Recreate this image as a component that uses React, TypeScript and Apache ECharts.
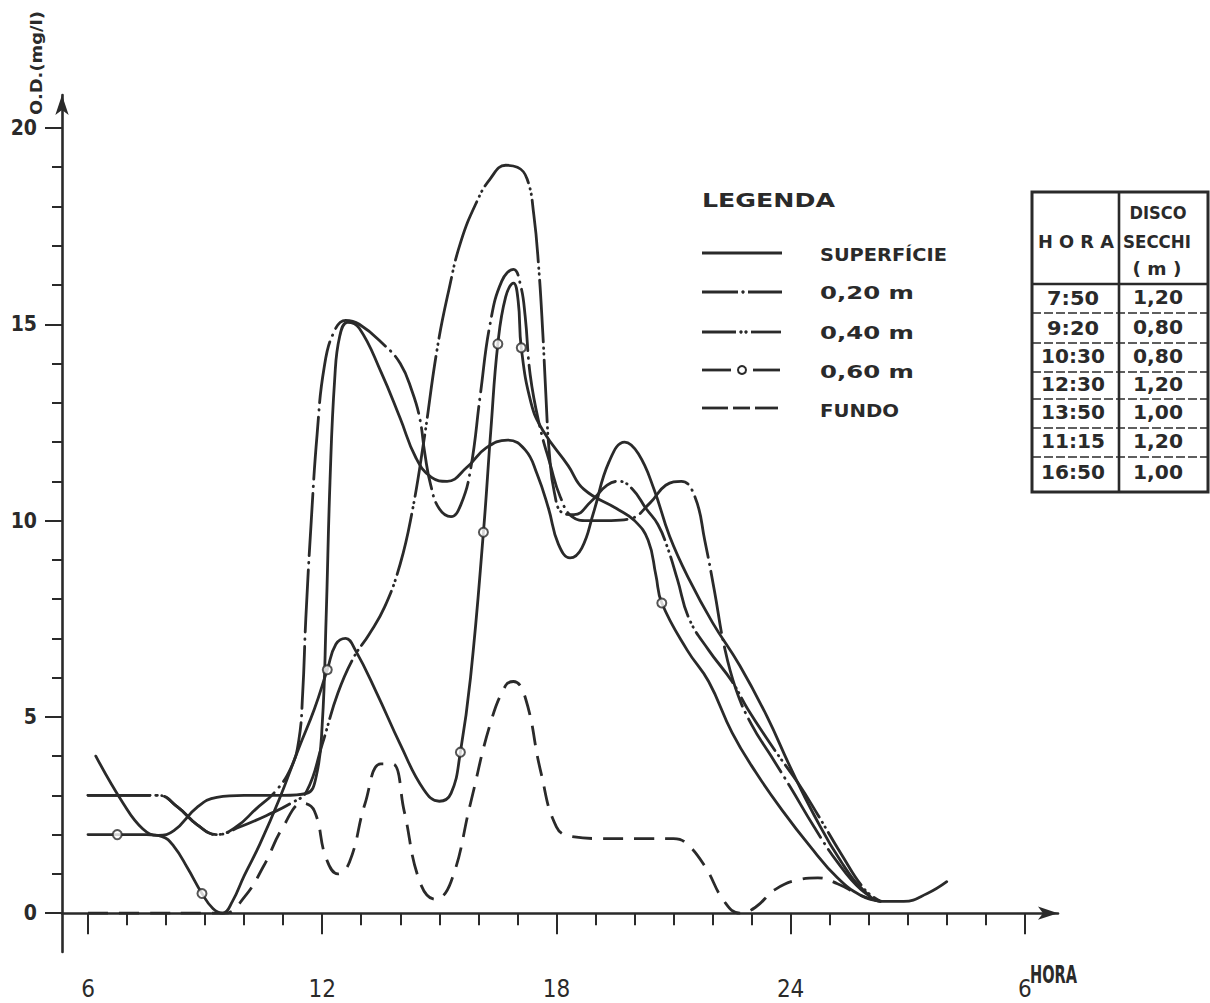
import React, { useEffect, useRef } from "react";
import * as echarts from "echarts";

// ---------- data ----------
const hourTicks = [6, 7, 8, 9, 10, 11, 12, 13, 14, 15, 16, 17, 18, 19, 20, 21, 22, 23, 24, 25, 26, 27, 28, 29, 30];
const hourLabels = [6, 12, 18, 24, 30];
const valueTicks = [0, 1, 2, 3, 4, 5, 6, 7, 8, 9, 10, 11, 12, 13, 14, 15, 16, 17, 18, 19, 20];
const valueLabels = [0, 5, 10, 15, 20];

const superficie: [number, number][] = [
  [6.2, 4.0], [6.9, 2.8], [7.4, 2.15], [7.8, 1.98], [8.2, 2.1], [8.8, 2.7],
  [9.3, 2.95], [10.0, 3.0], [11.0, 3.0], [11.6, 3.05], [11.85, 3.5], [12.0, 4.8],
  [12.1, 7.5], [12.2, 11.0], [12.32, 13.6], [12.45, 14.7], [12.65, 15.05], [12.95, 14.9],
  [13.5, 13.8], [14.0, 12.6], [14.4, 11.6], [14.8, 11.1], [15.2, 11.0], [15.7, 11.35],
  [16.2, 11.85], [16.75, 12.05], [17.2, 11.8], [17.5, 11.2], [17.8, 10.3], [18.05, 9.4],
  [18.35, 9.05], [18.65, 9.3], [18.95, 10.2], [19.35, 11.5], [19.75, 12.0], [20.1, 11.7],
  [20.5, 10.8], [20.9, 9.6], [21.4, 8.5], [22.0, 7.4], [22.7, 6.3], [23.4, 5.0], [24.0, 3.7],
  [24.6, 2.5], [25.3, 1.3], [25.9, 0.55], [26.35, 0.3], [26.9, 0.3], [27.5, 0.5], [28.0, 0.8]
];

const m020: [number, number][] = [
  [6.0, 3.0], [7.0, 3.0], [7.8, 3.0], [8.3, 2.7], [8.8, 2.25], [9.3, 2.0], [9.8, 2.2],
  [10.3, 2.65], [10.8, 3.1], [11.2, 3.7], [11.4, 4.4], [11.5, 5.6], [11.58, 7.5], [11.72, 10.0],
  [11.87, 12.2], [12.05, 13.9], [12.3, 14.8], [12.6, 15.1], [12.95, 15.0], [13.56, 14.5],
  [14.0, 14.0], [14.3, 13.3], [14.5, 12.6], [14.63, 11.7], [14.78, 10.9], [15.0, 10.3], [15.3, 10.1],
  [15.55, 10.4], [15.8, 11.3], [16.05, 13.2], [16.3, 15.0], [16.6, 16.1], [16.9, 16.4], [17.08, 16.0],
  [17.2, 15.2], [17.33, 13.7], [17.55, 12.5], [17.85, 11.4], [18.1, 10.6], [18.4, 10.1], [18.8, 10.0],
  [19.4, 10.0], [19.9, 10.05], [20.4, 10.45], [20.8, 10.9], [21.2, 11.0], [21.55, 10.6], [21.8, 9.5],
  [22.05, 8.2], [22.3, 6.8], [22.6, 5.7], [23.0, 4.8], [23.5, 4.0], [24.0, 3.2], [24.6, 2.2],
  [25.2, 1.3], [25.8, 0.6], [26.3, 0.3]
];

const m040: [number, number][] = [
  [6.0, 3.0], [7.0, 3.0], [7.8, 3.0], [8.3, 2.7], [8.8, 2.25], [9.3, 2.0], [9.9, 2.2],
  [10.6, 2.5], [11.2, 2.8], [11.6, 3.1], [12.0, 4.3], [12.4, 5.6], [12.8, 6.5], [13.2, 7.1],
  [13.6, 7.8], [14.0, 8.9], [14.3, 10.2], [14.6, 12.0], [14.95, 14.4],
  [15.25, 15.9], [15.55, 17.1], [15.95, 18.1], [16.3, 18.7], [16.7, 19.05], [17.0, 19.0], [17.25, 18.7],
  [17.42, 17.8], [17.55, 16.4], [17.65, 14.8], [17.73, 13.2], [17.82, 11.7], [17.95, 10.7], [18.15, 10.2],
  [18.45, 10.15], [18.9, 10.5], [19.3, 10.9], [19.6, 11.0], [19.95, 10.8], [20.3, 10.3], [20.6, 9.9],
  [20.85, 9.3], [21.1, 8.5], [21.4, 7.5], [21.9, 6.7], [22.5, 5.9], [22.9, 5.2], [23.56, 4.2],
  [24.2, 3.3], [24.7, 2.5], [25.3, 1.5], [25.9, 0.6], [26.3, 0.3]
];

const m060: [number, number][] = [
  [6.0, 2.0], [6.75, 2.0], [7.5, 2.0], [7.9, 1.95], [8.2, 1.7], [8.55, 1.15], [8.92, 0.5], [9.2, 0.12],
  [9.45, 0.0], [9.7, 0.3], [10.0, 0.95], [10.4, 1.75], [10.9, 2.9], [11.4, 4.2], [11.8, 5.2],
  [12.13, 6.2], [12.35, 6.85], [12.6, 7.0], [12.85, 6.7], [13.4, 5.6], [14.0, 4.3],
  [14.6, 3.15], [15.0, 2.85], [15.3, 3.05], [15.54, 4.1], [15.8, 6.0], [16.13, 9.7], [16.32, 12.3],
  [16.5, 14.5], [16.7, 15.7], [16.9, 16.05], [17.02, 15.6], [17.1, 14.4], [17.35, 13.0], [17.65, 12.3],
  [18.3, 11.4], [18.7, 10.8], [19.55, 10.3], [20.0, 10.0], [20.35, 9.5], [20.55, 8.6], [20.7, 7.9],
  [21.35, 6.7], [21.9, 5.9], [22.5, 4.6], [23.1, 3.6], [23.8, 2.6], [24.5, 1.7], [25.2, 0.9],
  [25.8, 0.45], [26.3, 0.3]
];

const m060Circles: [number, number][] = [
  [6.75, 2.0], [8.92, 0.5], [12.13, 6.2], [15.54, 4.1], [16.13, 9.7], [16.5, 14.5], [17.1, 14.4], [20.7, 7.9]
];

const fundo: [number, number][] = [
  [6.0, 0], [7.5, 0], [9.0, 0], [9.5, 0.0], [10.0, 0.4], [10.5, 1.2], [11.0, 2.2], [11.5, 2.8],
  [11.8, 2.6], [12.1, 1.4], [12.4, 1.0], [12.7, 1.3], [13.1, 2.8], [13.5, 3.8], [13.8, 3.8],
  [14.1, 2.6], [14.5, 0.8], [14.9, 0.35], [15.3, 0.8], [15.8, 2.8], [16.3, 4.8], [16.7, 5.8],
  [16.9, 5.9], [17.2, 5.5], [17.6, 3.6], [18.0, 2.2], [18.4, 1.95], [19.2, 1.9], [20.2, 1.9],
  [21.0, 1.9], [21.3, 1.8], [21.8, 1.2], [22.3, 0.3], [22.7, 0.0], [23.1, 0.15], [23.6, 0.6],
  [24.2, 0.85], [24.7, 0.9], [25.2, 0.75], [25.8, 0.45], [26.3, 0.3]
];

const legendTitle = "LEGENDA";
const legendNames = ["SUPERFÍCIE", "0,20 m", "0,40 m", "0,60 m", "FUNDO"];
const tableHeader = ["H O R A", "DISCO", "SECCHI", "( m )"];
const tableHora = ["7:50", "9:20", "10:30", "12:30", "13:50", "11:15", "16:50"];
const tableSecchi = ["1,20", "0,80", "0,80", "1,20", "1,00", "1,20", "1,00"];
const yAxisTitle = "O.D.(mg/l)";
const xAxisTitle = "HORA";

// ---------- style ----------
const INK = "#2a2a2a";
const BOLD = "'DejaVu Sans', 'Liberation Sans', sans-serif";
const NARROW = "'Liberation Sans Narrow', 'DejaVu Sans Condensed', 'Liberation Sans', sans-serif";
const LW = 2.8;

function fitScale(text: string, font: string, target: number): number {
  const ctx = document.createElement("canvas").getContext("2d");
  if (!ctx) return 1;
  ctx.font = font;
  const w = ctx.measureText(text).width;
  return w > 0 ? target / w : 1;
}

function txt(text: string, x: number, y: number, size: number, width: number | null, align = "left", family = BOLD, weight = "bold") {
  const font = `${weight} ${size}px ${family}`;
  const s = width ? fitScale(text, font, width) : 1;
  return {
    type: "text",
    x,
    y,
    scaleX: s,
    silent: true,
    style: {
      text,
      font,
      fill: INK,
      align,
      textAlign: align,
      verticalAlign: "middle",
      textVerticalAlign: "middle",
    },
  };
}

function seg(x1: number, y1: number, x2: number, y2: number, w = LW, dash?: number[]) {
  return {
    type: "line",
    silent: true,
    shape: { x1, y1, x2, y2 },
    style: { stroke: INK, lineWidth: w, lineDash: dash },
  };
}

function dot(cx: number, cy: number, r = 1.7) {
  return { type: "circle", silent: true, shape: { cx, cy, r }, style: { fill: INK } };
}

function buildGraphic() {
  const g: any[] = [];
  g.push({ ...txt(yAxisTitle, 0, 0, 15, 104, "center"), x: 37, y: 63, rotation: Math.PI / 2 });
  g.push(txt(xAxisTitle, 1030, 975, 24, 47, "left", NARROW));

  // legend
  g.push(txt(legendTitle, 702, 200, 19, 133));
  const ly = [253, 292, 332, 370, 408];
  const ty = [255, 293, 333, 372, 410];
  const tw = [127, 94, 94, 94, 79];
  g.push(seg(702, ly[0], 782, ly[0]));
  g.push(seg(702, ly[1], 738, ly[1]), dot(743, ly[1]), seg(748, ly[1], 782, ly[1]));
  g.push(seg(702, ly[2], 736, ly[2]), dot(741, ly[2]), dot(746, ly[2]), seg(751, ly[2], 781, ly[2]));
  g.push(seg(702, ly[3], 731, ly[3]), {
    type: "circle", silent: true, shape: { cx: 742, cy: ly[3], r: 4 },
    style: { fill: "#fff", stroke: INK, lineWidth: 2 },
  }, seg(753, ly[3], 780, ly[3]));
  g.push(seg(702, ly[4], 728, ly[4]), seg(733, ly[4], 750, ly[4]), seg(755, ly[4], 778, ly[4]));
  legendNames.forEach((n, i) => g.push(txt(n, 820, ty[i], 18, tw[i])));

  // table
  const L = 1032, R = 1208, T = 192, B = 492, D = 1119, H = 284;
  g.push({
    type: "rect", silent: true, shape: { x: L, y: T, width: R - L, height: B - T },
    style: { fill: "none", stroke: INK, lineWidth: 3 },
  });
  g.push(seg(D, T, D, B, 2.6));
  g.push(seg(L, H, R, H, 2.6));
  const rowLines = [313, 343, 372, 399, 428, 457];
  rowLines.forEach((y) => g.push(seg(L, y, R, y, 1.6, [9, 3])));
  g.push(txt(tableHeader[0], 1076, 242, 17, 76, "center"));
  g.push(txt(tableHeader[1], 1158, 213, 17, 57, "center"));
  g.push(txt(tableHeader[2], 1157, 242, 17, 68, "center"));
  g.push(txt(tableHeader[3], 1157, 269, 17, 49, "center"));
  const rowY = [298, 328, 357, 385, 413, 442, 473];
  tableHora.forEach((t, i) => g.push(txt(t, 1073, rowY[i], 19, t.length > 4 ? 64 : 52, "center")));
  tableSecchi.forEach((t, i) => g.push(txt(t, 1158, rowY[i], 19, 50, "center")));
  return g;
}

function lineSeries(name: string, data: [number, number][], type: any, cap = "round") {
  return {
    name,
    type: "line",
    data,
    smooth: 0.45,
    showSymbol: false,
    symbol: "none",
    lineStyle: { color: INK, width: LW, type, cap, join: "round" },
    z: 3,
    silent: true,
  };
}

const X_MIN = 5.334, X_MAX = 30.85, Y_MIN = -0.99, Y_MAX = 20.84;

function buildOption(): any {
  const axisLineStyle = { color: INK, width: 2.6 };
  return {
    animation: false,
    backgroundColor: "#ffffff",
    grid: { left: 62, right: 152, top: 95, bottom: 51, containLabel: false, outerBoundsMode: "none" },
    xAxis: [
      {
        type: "value", min: X_MIN, max: X_MAX, position: "bottom",
        axisLine: { show: true, lineStyle: axisLineStyle, symbol: ["none", "arrow"], symbolSize: [10, 20] },
        axisTick: { show: true, length: 12, customValues: hourTicks, lineStyle: { color: INK, width: 2 } },
        axisLabel: { show: false },
        splitLine: { show: false },
      },
      {
        type: "value", min: X_MIN, max: X_MAX, position: "bottom",
        axisLine: { show: false },
        axisTick: { show: true, length: 21, customValues: hourLabels, lineStyle: { color: INK, width: 2 } },
        axisLabel: {
          show: true, customValues: hourLabels, margin: 25, color: INK, fontSize: 24, lineHeight: 24,
          fontFamily: NARROW, formatter: (v: number) => (v === 30 ? "6" : String(v)),
        },
        splitLine: { show: false },
      },
    ],
    yAxis: [
      {
        type: "value", min: Y_MIN, max: Y_MAX, position: "left",
        axisLine: { show: true, lineStyle: axisLineStyle, symbol: ["none", "arrow"], symbolSize: [10, 20] },
        axisTick: { show: true, length: 10, customValues: valueTicks, lineStyle: { color: INK, width: 2 } },
        axisLabel: { show: false },
        splitLine: { show: false },
      },
      {
        type: "value", min: Y_MIN, max: Y_MAX, position: "left",
        axisLine: { show: false },
        axisTick: { show: true, length: 17, customValues: valueLabels, lineStyle: { color: INK, width: 2 } },
        axisLabel: {
          show: true, customValues: valueLabels, margin: 25, color: INK, fontSize: 21,
          fontWeight: "bold", fontFamily: NARROW,
        },
        splitLine: { show: false },
      },
    ],
    series: [
      lineSeries("FUNDO", fundo, [20, 11], "butt"),
      lineSeries("SUPERFÍCIE", superficie, "solid"),
      lineSeries("0,20 m", m020, [62, 7, 0.5, 7]),
      lineSeries("0,40 m", m040, [62, 6, 0.5, 5, 0.5, 6]),
      lineSeries("0,60 m", m060, "solid"),
      {
        name: "0,60 m pontos",
        type: "scatter",
        data: m060Circles,
        symbol: "circle",
        symbolSize: 9,
        itemStyle: { color: "#ffffff", borderColor: INK, borderWidth: 2 },
        z: 5,
        silent: true,
      },
    ],
    graphic: buildGraphic(),
  };
}

export default function App() {
  const ref = useRef<HTMLDivElement>(null);
  useEffect(() => {
    if (!ref.current) return;
    const chart = echarts.init(ref.current, undefined, { renderer: "svg" });
    chart.setOption(buildOption());
    return () => chart.dispose();
  }, []);
  return (
    <div
      ref={ref}
      style={{ position: "absolute", left: 0, top: 0, width: 1210, height: 1003, background: "#fff" }}
    />
  );
}
